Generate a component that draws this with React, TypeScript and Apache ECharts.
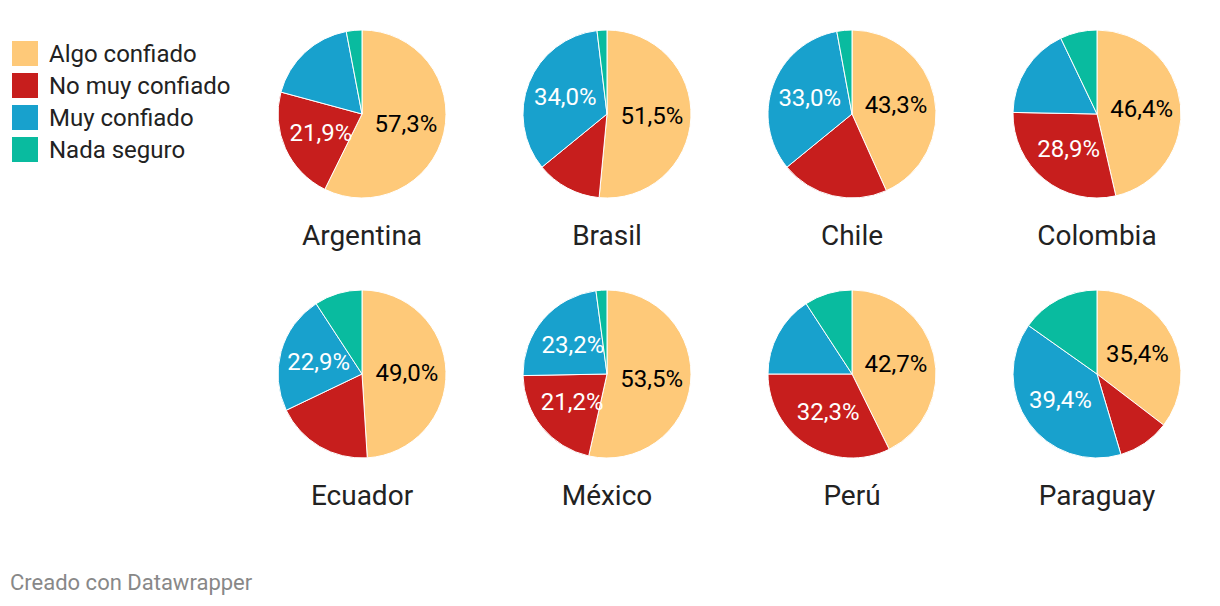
import React, { useEffect, useRef } from "react";
import * as echarts from "echarts";

const categories = ["Algo confiado", "No muy confiado", "Muy confiado", "Nada seguro"];
const colors = ["#fec979", "#c71e1d", "#18a1cd", "#09bb9f"];
const countries = ["Argentina", "Brasil", "Chile", "Colombia", "Ecuador", "México", "Perú", "Paraguay"];

const algoConfiado = [57.3, 51.5, 43.3, 46.4, 49.0, 53.5, 42.7, 35.4];
const noMuyConfiado = [21.9, 12.6, 20.8, 28.9, 18.9, 21.2, 32.3, 10.0];
const muyConfiado = [17.8, 34.0, 33.0, 17.6, 22.9, 23.2, 15.8, 39.4];
const nadaSeguro = [3.0, 1.9, 2.9, 7.1, 9.2, 2.1, 9.2, 15.2];

const FONT = "Roboto, 'Noto Sans', sans-serif";

export default function App() {
  const ref = useRef<HTMLDivElement>(null);
  useEffect(() => {
    if (!ref.current) return;
    const chart = echarts.init(ref.current, undefined, { renderer: "svg" });
    const cols = [362, 607, 852, 1097];
    const rows = [114, 374];
    const R = 84;
    const series: any[] = countries.map((c, k) => {
      const cx = cols[k % 4];
      const cy = rows[Math.floor(k / 4)];
      const vals = [algoConfiado[k], noMuyConfiado[k], muyConfiado[k], nadaSeguro[k]];
      return {
        type: "pie",
        name: c,
        center: [cx, cy],
        radius: [0, R],
        startAngle: 90,
        clockwise: true,
        silent: true,
        emphasis: { disabled: true },
        labelLine: { show: false },
        itemStyle: { borderColor: "#ffffff", borderWidth: 1 },
        data: vals.map((v, i) => ({
          name: categories[i],
          value: v,
          itemStyle: { color: colors[i] },
          label: {
            show: v > 21,
            position: "inside",
            color: i === 0 ? "#000000" : "#ffffff",
            fontSize: 24,
            fontFamily: FONT,
            formatter: () => v.toFixed(1).replace(".", ",") + "%",
          },
        })),
      };
    });
    const graphics: any[] = countries.map((c, k) => ({
      type: "text",
      x: cols[k % 4],
      y: rows[Math.floor(k / 4)] + 121,
      style: {
        text: c,
        fontSize: 28,
        fontFamily: FONT,
        fill: "#222222",
        textAlign: "center",
        textVerticalAlign: "middle",
      },
    }));
    graphics.push({
      type: "text",
      x: 10,
      y: 582,
      style: {
        text: "Creado con Datawrapper",
        fontSize: 22,
        fontFamily: FONT,
        fill: "#888888",
        textAlign: "left",
        textVerticalAlign: "middle",
      },
    });
    chart.setOption({
      animation: false,
      backgroundColor: "#ffffff",
      legend: {
        orient: "vertical",
        left: 10,
        top: 39,
        padding: 0,
        itemWidth: 28,
        itemHeight: 27,
        itemGap: 3,
        icon: "rect",
        selectedMode: false,
        data: categories,
        textStyle: {
          fontSize: 24,
          lineHeight: 27,
          fontFamily: FONT,
          color: "#222222",
          padding: [0, 0, 0, 5],
        },
      },
      series,
      graphic: graphics,
    });
    return () => chart.dispose();
  }, []);
  return (
    <div
      ref={ref}
      style={{ position: "fixed", left: 0, top: 0, width: 1220, height: 606, background: "#fff" }}
    />
  );
}
